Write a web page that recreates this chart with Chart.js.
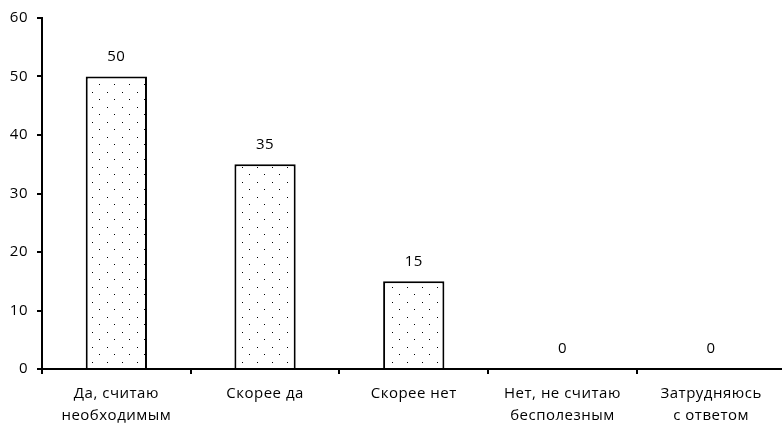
<!DOCTYPE html>
<html>
<head>
<meta charset="utf-8">
<script src="https://cdn.jsdelivr.net/npm/chart.js@4.4.1/dist/chart.umd.min.js"></script>
<style>
html,body{margin:0;padding:0;background:#fff;overflow:hidden;}
#wrap{width:790px;height:427px;}
</style>
</head>
<body>
<div id="wrap"><canvas id="c" width="790" height="427"></canvas></div>
<script>
const categories = [
  ["Да, считаю", "необходимым"],
  ["Скорее да"],
  ["Скорее нет"],
  ["Нет, не считаю", "бесполезным"],
  ["Затрудняюсь", "с ответом"]
];
const values = [50, 35, 15, 0, 0];
const yTicks = [0, 10, 20, 30, 40, 50, 60];

const FONT = "'Open Sans', sans-serif";

function makePattern() {
  const p = document.createElement('canvas');
  p.width = 15; p.height = 15;
  const g = p.getContext('2d');
  g.fillStyle = '#fff';
  g.fillRect(0, 0, 15, 15);
  g.fillStyle = '#000';
  g.fillRect(2, 2, 1, 1);
  g.fillRect(9, 9, 1, 1);
  return document.getElementById('c').getContext('2d').createPattern(p, 'repeat');
}

const spacing = {
  id: 'spacing',
  beforeDraw(chart) { chart.ctx.letterSpacing = '0.5px'; }
};

const valueLabels = {
  id: 'valueLabels',
  afterDatasetsDraw(chart) {
    const ctx = chart.ctx;
    const meta = chart.getDatasetMeta(0);
    ctx.save();
    ctx.font = "15px " + FONT;
    ctx.fillStyle = '#000';
    ctx.textAlign = 'center';
    ctx.textBaseline = 'middle';
    meta.data.forEach((bar, i) => {
      ctx.fillText(String(values[i]), bar.x, bar.y - 20);
    });
    ctx.restore();
  }
};

new Chart(document.getElementById('c'), {
  type: 'bar',
  data: {
    labels: categories,
    datasets: [{
      data: values,
      backgroundColor: makePattern(),
      borderColor: '#000',
      borderWidth: 2,
      borderSkipped: 'bottom',
      categoryPercentage: 1,
      barPercentage: 0.412
    }]
  },
  options: {
    responsive: false,
    animation: false,
    layout: { padding: { top: 17, right: 4.5, left: 0, bottom: 0 } },
    plugins: { legend: { display: false }, tooltip: { enabled: false } },
    scales: {
      x: {
        offset: true,
        grid: { offset: true, drawOnChartArea: false, drawTicks: true, tickLength: 5, color: '#000', lineWidth: 2 },
        border: { display: true, color: '#000', width: 2 },
        ticks: { color: '#000', font: { family: FONT, size: 15, lineHeight: 1.45 }, padding: 9, maxRotation: 0, autoSkip: false },
        afterFit(s) { s.height = 58; }
      },
      y: {
        min: 0, max: 60,
        afterBuildTicks(s) { s.ticks = yTicks.map(v => ({ value: v })); },
        grid: { drawOnChartArea: false, drawTicks: true, tickLength: 5, color: '#000', lineWidth: 2 },
        border: { display: true, color: '#000', width: 2 },
        ticks: { color: '#000', font: { family: FONT, size: 15 }, padding: 9 },
        afterFit(s) { s.width = 42; }
      }
    }
  },
  plugins: [spacing, valueLabels]
});
</script>
</body>
</html>
